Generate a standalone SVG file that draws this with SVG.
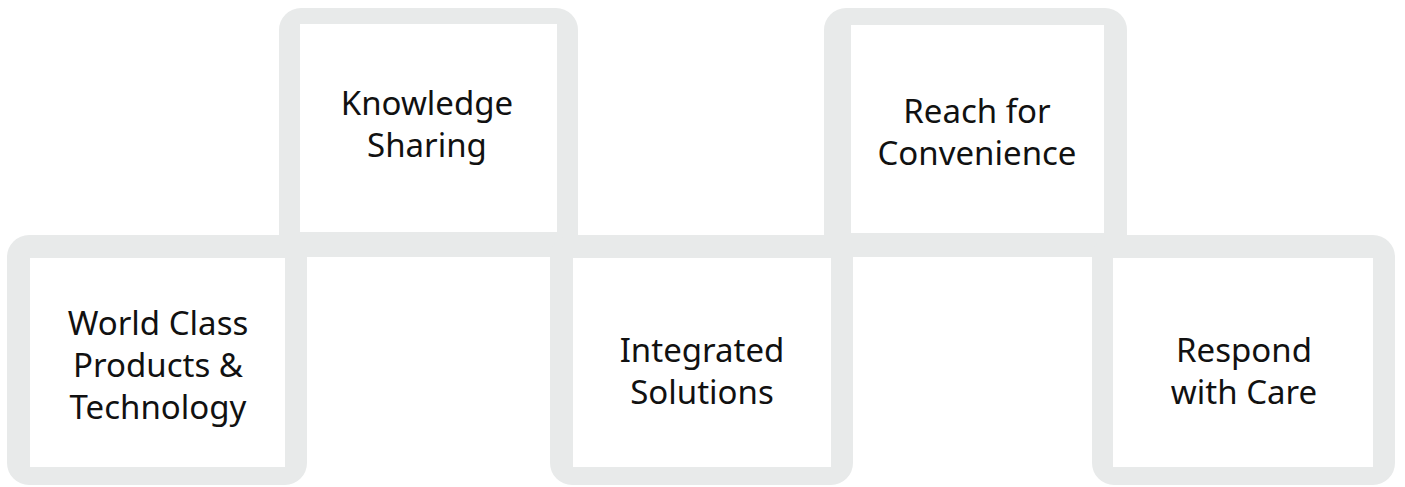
<svg xmlns="http://www.w3.org/2000/svg" width="1405" height="487" viewBox="0 0 1405 487">
  <style>
    .frame { fill: #e8eaea; fill-rule: evenodd; stroke: none; }
    .label { font-family: "Noto Sans", "DejaVu Sans", sans-serif; font-size: 33px; fill: #111111; text-anchor: middle; }
  </style>
  <rect x="0" y="0" width="1405" height="487" fill="#ffffff"/>
  <g id="node-world-class">
    <path class="frame" d="M29,235 H285 A22,22 0 0 1 307,257 V463 A22,22 0 0 1 285,485 H29 A22,22 0 0 1 7,463 V257 A22,22 0 0 1 29,235 Z M30,258 V467 H285 V258 Z"/>
    <text class="label" x="158" y="335">World Class</text>
    <text class="label" x="158" y="377">Products &amp;</text>
    <text class="label" x="158" y="419">Technology</text>
  </g>
  <g id="node-knowledge">
    <path class="frame" d="M301,8 H556 A22,22 0 0 1 578,30 V257 H279 V30 A22,22 0 0 1 301,8 Z M300,24 V232 H557 V24 Z"/>
    <text class="label" x="427" y="115">Knowledge</text>
    <text class="label" x="427" y="157">Sharing</text>
  </g>
  <g id="node-integrated">
    <path class="frame" d="M572,235 H831 A22,22 0 0 1 853,257 V463 A22,22 0 0 1 831,485 H572 A22,22 0 0 1 550,463 V257 A22,22 0 0 1 572,235 Z M573,258 V467 H831 V258 Z"/>
    <text class="label" x="702" y="362">Integrated</text>
    <text class="label" x="702" y="404">Solutions</text>
  </g>
  <g id="node-reach">
    <path class="frame" d="M846,8 H1105 A22,22 0 0 1 1127,30 V257 H824 V30 A22,22 0 0 1 846,8 Z M851,25 V233 H1104 V25 Z"/>
    <text class="label" x="977" y="123">Reach for</text>
    <text class="label" x="977" y="165">Convenience</text>
  </g>
  <g id="node-respond">
    <path class="frame" d="M1114,235 H1373 A22,22 0 0 1 1395,257 V463 A22,22 0 0 1 1373,485 H1114 A22,22 0 0 1 1092,463 V257 A22,22 0 0 1 1114,235 Z M1113,258 V467 H1373 V258 Z"/>
    <text class="label" x="1244" y="362">Respond</text>
    <text class="label" x="1244" y="404">with Care</text>
  </g>
  <g id="connectors"></g>
</svg>
